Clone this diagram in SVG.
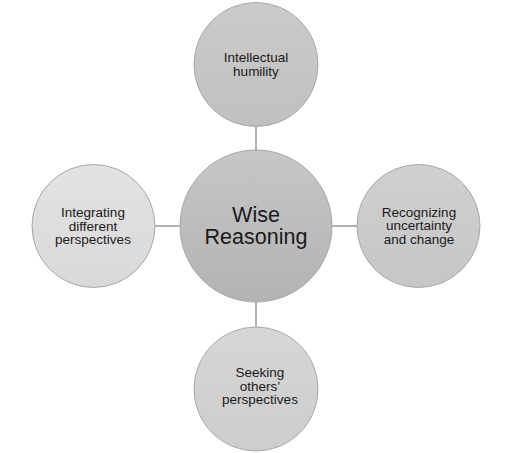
<svg xmlns="http://www.w3.org/2000/svg" width="512" height="453" viewBox="0 0 512 453">
<defs>
<linearGradient id="gC" x1="0" y1="0" x2="0" y2="1"><stop offset="0" stop-color="#c6c6c6"/><stop offset="1" stop-color="#b3b3b3"/></linearGradient>
<linearGradient id="gT" x1="0" y1="0" x2="0" y2="1"><stop offset="0" stop-color="#cbcbcb"/><stop offset="1" stop-color="#c0c0c0"/></linearGradient>
<linearGradient id="gL" x1="0" y1="0" x2="0" y2="1"><stop offset="0" stop-color="#e2e2e2"/><stop offset="1" stop-color="#d9d9d9"/></linearGradient>
<linearGradient id="gR" x1="0" y1="0" x2="0" y2="1"><stop offset="0" stop-color="#d0d0d0"/><stop offset="1" stop-color="#c6c6c6"/></linearGradient>
<linearGradient id="gB" x1="0" y1="0" x2="0" y2="1"><stop offset="0" stop-color="#d6d6d6"/><stop offset="1" stop-color="#cdcdcd"/></linearGradient>
</defs>
<style>
.n{stroke:#a8a8a8;stroke-width:1}
.t{font-family:"Liberation Sans",Arial,sans-serif;font-size:13.5px;fill:#1a1a1a;text-anchor:middle}
.c{font-family:"Liberation Sans",Arial,sans-serif;font-size:21.5px;fill:#1a1a1a;text-anchor:middle}
.e{stroke:#b4b4b4;stroke-width:2;fill:none}
</style>
<g id="connectors">
<line class="e" x1="256" y1="126" x2="256" y2="150"/>
<line class="e" x1="256" y1="302" x2="256" y2="327"/>
<line class="e" x1="155" y1="226" x2="180" y2="226"/>
<line class="e" x1="332" y1="226" x2="357" y2="226"/>
</g>
<g id="center">
<circle class="n" cx="256" cy="226" r="76" fill="url(#gC)"/>
<text class="c" x="256" y="222">Wise</text>
<text class="c" x="256" y="244">Reasoning</text>
</g>
<g id="top">
<circle class="n" cx="256" cy="64.5" r="62" fill="url(#gT)"/>
<text class="t" x="256" y="62">Intellectual</text>
<text class="t" x="256" y="75.5">humility</text>
</g>
<g id="left">
<circle class="n" cx="93.5" cy="226" r="61.5" fill="url(#gL)"/>
<text class="t" x="93" y="217">Integrating</text>
<text class="t" x="93" y="230.5">different</text>
<text class="t" x="93" y="244">perspectives</text>
</g>
<g id="right">
<circle class="n" cx="418.5" cy="226" r="61.5" fill="url(#gR)"/>
<text class="t" x="419" y="216.5">Recognizing</text>
<text class="t" x="419" y="230">uncertainty</text>
<text class="t" x="419" y="243.5">and change</text>
</g>
<g id="bottom">
<circle class="n" cx="256" cy="389" r="62" fill="url(#gB)"/>
<text class="t" x="260" y="377">Seeking</text>
<text class="t" x="260" y="390.5">others’</text>
<text class="t" x="260" y="404">perspectives</text>
</g>
</svg>
